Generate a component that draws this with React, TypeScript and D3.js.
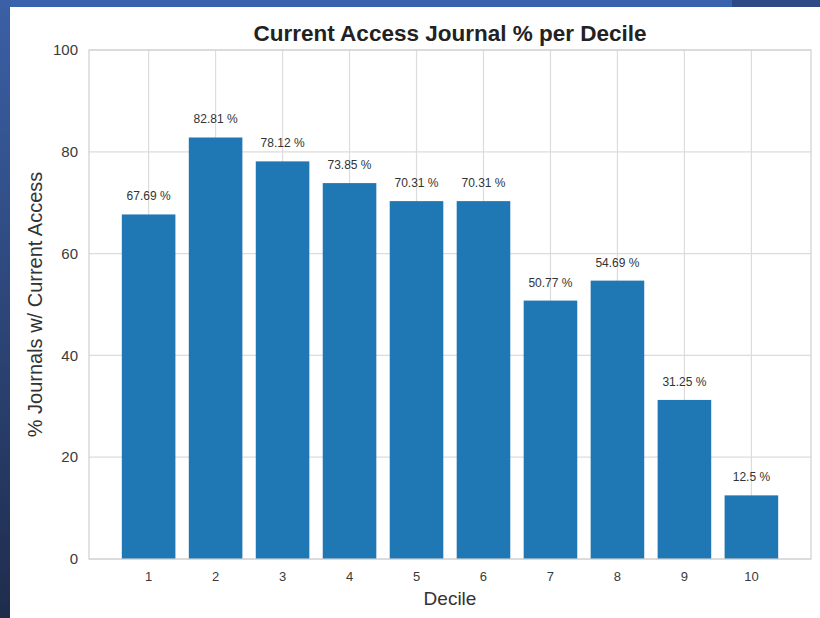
import React, { useEffect, useRef } from "react";
import * as d3 from "d3";

const deciles: number[] = [1, 2, 3, 4, 5, 6, 7, 8, 9, 10];
const accessPct: number[] = [67.69, 82.81, 78.12, 73.85, 70.31, 70.31, 50.77, 54.69, 31.25, 12.5];
const valueLabels: string[] = ["67.69 %", "82.81 %", "78.12 %", "73.85 %", "70.31 %", "70.31 %", "50.77 %", "54.69 %", "31.25 %", "12.5 %"];
const yTicks: number[] = [0, 20, 40, 60, 80, 100];

const App: React.FC = () => {
  const svgRef = useRef<SVGSVGElement | null>(null);

  useEffect(() => {
    if (!svgRef.current) return;
    const svg = d3.select(svgRef.current);
    svg.selectAll("*").remove();

    const width = 820;
    const height = 618;
    const margin = { top: 50, right: 8, bottom: 59, left: 89 };
    const font = "'Liberation Sans', Arial, sans-serif";

    // slide frame
    const defs = svg.append("defs");
    const grad = defs.append("linearGradient").attr("id", "sideGrad").attr("x1", 0).attr("y1", 0).attr("x2", 0).attr("y2", 1);
    grad.append("stop").attr("offset", "0%").attr("stop-color", "#3b60a6");
    grad.append("stop").attr("offset", "100%").attr("stop-color", "#1f2c4c");

    svg.append("rect").attr("x", 0).attr("y", 0).attr("width", width).attr("height", height).attr("fill", "#fff");
    svg.append("rect").attr("x", 0).attr("y", 0).attr("width", 732).attr("height", 7).attr("fill", "#3a63ad");
    svg.append("rect").attr("x", 732).attr("y", 0).attr("width", width - 732).attr("height", 7).attr("fill", "#2c4a86");
    svg.append("rect").attr("x", 0).attr("y", 0).attr("width", 10).attr("height", height).attr("fill", "url(#sideGrad)");

    const x = d3
      .scaleLinear()
      .domain([0.11, 10.89])
      .range([margin.left, width - margin.right - 1]);

    const y = d3
      .scaleLinear()
      .domain([0, 100])
      .range([height - margin.bottom, margin.top]);

    const barW = x(1.4) - x(0.6);

    // grid
    svg.append("g")
      .selectAll("line")
      .data(yTicks)
      .join("line")
      .attr("x1", x.range()[0])
      .attr("x2", x.range()[1])
      .attr("y1", d => y(d))
      .attr("y2", d => y(d))
      .attr("stroke", "#dcdcdc")
      .attr("stroke-width", 1.2);

    svg.append("g")
      .selectAll("line")
      .data(deciles)
      .join("line")
      .attr("x1", d => x(d))
      .attr("x2", d => x(d))
      .attr("y1", y(0))
      .attr("y2", y(100))
      .attr("stroke", "#dcdcdc")
      .attr("stroke-width", 1.2);

    // bars
    svg.append("g")
      .selectAll("rect")
      .data(deciles)
      .join("rect")
      .attr("x", d => x(d) - barW / 2)
      .attr("y", (d, i) => y(accessPct[i]))
      .attr("width", barW)
      .attr("height", (d, i) => y(0) - y(accessPct[i]))
      .attr("fill", "#1f77b4");

    // value labels
    svg.append("g")
      .selectAll("text")
      .data(deciles)
      .join("text")
      .attr("x", d => x(d))
      .attr("y", (d, i) => y(accessPct[i]) - 14)
      .attr("text-anchor", "middle")
      .style("font-family", font)
      .style("font-size", "12px")
      .style("fill", "#333")
      .text((d, i) => valueLabels[i]);

    // frame
    svg.append("rect")
      .attr("x", x.range()[0])
      .attr("y", y(100))
      .attr("width", x.range()[1] - x.range()[0])
      .attr("height", y(0) - y(100))
      .attr("fill", "none")
      .attr("stroke", "#cfcfcf")
      .attr("stroke-width", 1.2);

    // tick labels
    svg.append("g")
      .selectAll("text")
      .data(yTicks)
      .join("text")
      .attr("x", margin.left - 11)
      .attr("y", d => y(d))
      .attr("dy", "0.35em")
      .attr("text-anchor", "end")
      .style("font-family", font)
      .style("font-size", "15px")
      .style("fill", "#3a3a3a")
      .text(d => d);

    svg.append("g")
      .selectAll("text")
      .data(deciles)
      .join("text")
      .attr("x", d => x(d))
      .attr("y", y(0) + 22)
      .attr("text-anchor", "middle")
      .style("font-family", font)
      .style("font-size", "13px")
      .style("fill", "#3a3a3a")
      .text(d => d);

    // titles
    svg.append("text")
      .attr("x", (x.range()[0] + x.range()[1]) / 2)
      .attr("y", 41)
      .attr("text-anchor", "middle")
      .style("font-family", font)
      .style("font-size", "22.5px")
      .style("font-weight", "bold")
      .style("fill", "#222")
      .text("Current Access Journal % per Decile");

    svg.append("text")
      .attr("x", (x.range()[0] + x.range()[1]) / 2)
      .attr("y", 605)
      .attr("text-anchor", "middle")
      .style("font-family", font)
      .style("font-size", "19px")
      .style("fill", "#333")
      .text("Decile");

    svg.append("text")
      .attr("transform", "rotate(-90)")
      .attr("x", -(y(0) + y(100)) / 2)
      .attr("y", 42)
      .attr("text-anchor", "middle")
      .style("font-family", font)
      .style("font-size", "20px")
      .style("fill", "#333")
      .text("% Journals w/ Current Access");
  }, []);

  return (
    <svg
      ref={svgRef}
      width={820}
      height={618}
      style={{ position: "absolute", left: 0, top: 0, display: "block" }}
    />
  );
};

export default App;
